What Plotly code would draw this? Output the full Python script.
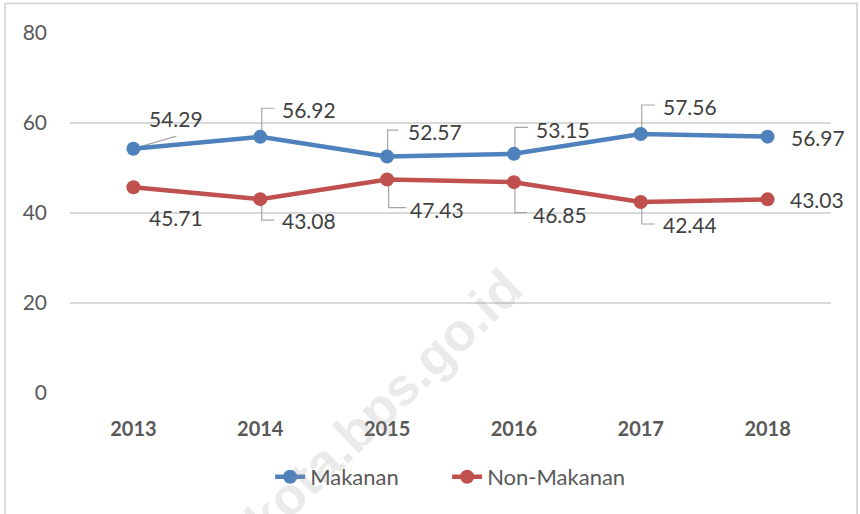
import plotly.graph_objects as go

years = ["2013", "2014", "2015", "2016", "2017", "2018"]
makanan = [54.29, 56.92, 52.57, 53.15, 57.56, 56.97]
non_makanan = [45.71, 43.08, 47.43, 46.85, 42.44, 43.03]
y_ticks = [0, 20, 40, 60, 80]

BLUE = "#4F81BD"
RED = "#C0504D"
FONT = "Lato"

# label offsets in pixels (dx right, dy down) relative to the marker
m_off = [(42.5, -30), (49, -27), (47.5, -25), (49, -24), (49.5, -27.5), (50, 1)]
n_off = [(42.5, 30), (49, 21.5), (49.5, 30), (46, 32), (49, 22.5), (49.5, 0)]
# leader line paths (pixel, y up positive) relative to marker; None = no leader
m_lead = ["M0,0 L43,12.5", "M1.5,0 V28.6 H14", "M0.5,0 V26.4 H11",
          "M1,0 V26.5 H14", "M1,0 V29 H14", None]
n_lead = [None, "M1.5,0 V-21 H14", "M1.5,0 V-28 H19",
          "M1,0 V-30.5 H13", "M1,0 V-22 H14", None]

fig = go.Figure()
fig.add_trace(go.Scatter(
    x=years, y=makanan, name="Makanan", mode="lines+markers",
    line=dict(color=BLUE, width=4.5), marker=dict(size=14, color=BLUE)))
fig.add_trace(go.Scatter(
    x=years, y=non_makanan, name="Non-Makanan", mode="lines+markers",
    line=dict(color=RED, width=4.5), marker=dict(size=14, color=RED)))

annotations = []
shapes = []
for vals, offs, leads in ((makanan, m_off, m_lead), (non_makanan, n_off, n_lead)):
    for i, v in enumerate(vals):
        dx, dy = offs[i]
        annotations.append(dict(
            x=i, y=v, xref="x", yref="y", text=f"{v:.2f}", showarrow=False,
            xshift=dx, yshift=-dy, xanchor="center", yanchor="middle",
            font=dict(family=FONT, size=21, color="#404040")))
        if leads[i]:
            shapes.append(dict(
                type="path", xref="x", yref="y", xsizemode="pixel", ysizemode="pixel",
                xanchor=i, yanchor=v, path=leads[i], layer="between",
                line=dict(color="#A6A6A6", width=1.2)))

# watermark
annotations.append(dict(
    x=0.412, y=-0.03, xref="paper", yref="paper", text="<b>kota.bps.go.id</b>",
    showarrow=False, textangle=-44, xanchor="center", yanchor="middle",
    font=dict(family="Liberation Sans", size=53, color="rgba(150,150,150,0.2)")))

# outer chart border
shapes.append(dict(type="rect", xref="paper", yref="paper",
                   x0=-0.0854, x1=1.0342, y0=-0.6, y1=1.0819,
                   line=dict(color="#D0D0D0", width=1.5), layer="below"))

fig.update_layout(
    width=860, height=514,
    margin=dict(l=70, r=29, t=33, b=121),
    paper_bgcolor="white", plot_bgcolor="white",
    showlegend=True,
    legend=dict(orientation="h", x=0.263, xanchor="left", y=-0.233, yanchor="middle",
                font=dict(family=FONT, size=22, color="#595959"),
                entrywidth=132, entrywidthmode="pixels",
                traceorder="normal"),
    annotations=annotations, shapes=shapes,
    xaxis=dict(type="category", range=[-0.5, 5.5], showgrid=False, zeroline=False,
               showline=False, ticks="", ticklabelstandoff=22,
               tickfont=dict(family=FONT, size=20, color="#595959", weight="bold")),
    yaxis=dict(range=[0, 80], tickvals=y_ticks, showgrid=True, gridcolor="#D9D9D9",
               gridwidth=1.5, zeroline=False, showline=False, ticks="",
               ticklabelstandoff=22,
               tickfont=dict(family=FONT, size=21, color="#595959")),
)

fig.write_html("out.html", config={"displayModeBar": False},
               post_script="document.body.style.margin='0';")
